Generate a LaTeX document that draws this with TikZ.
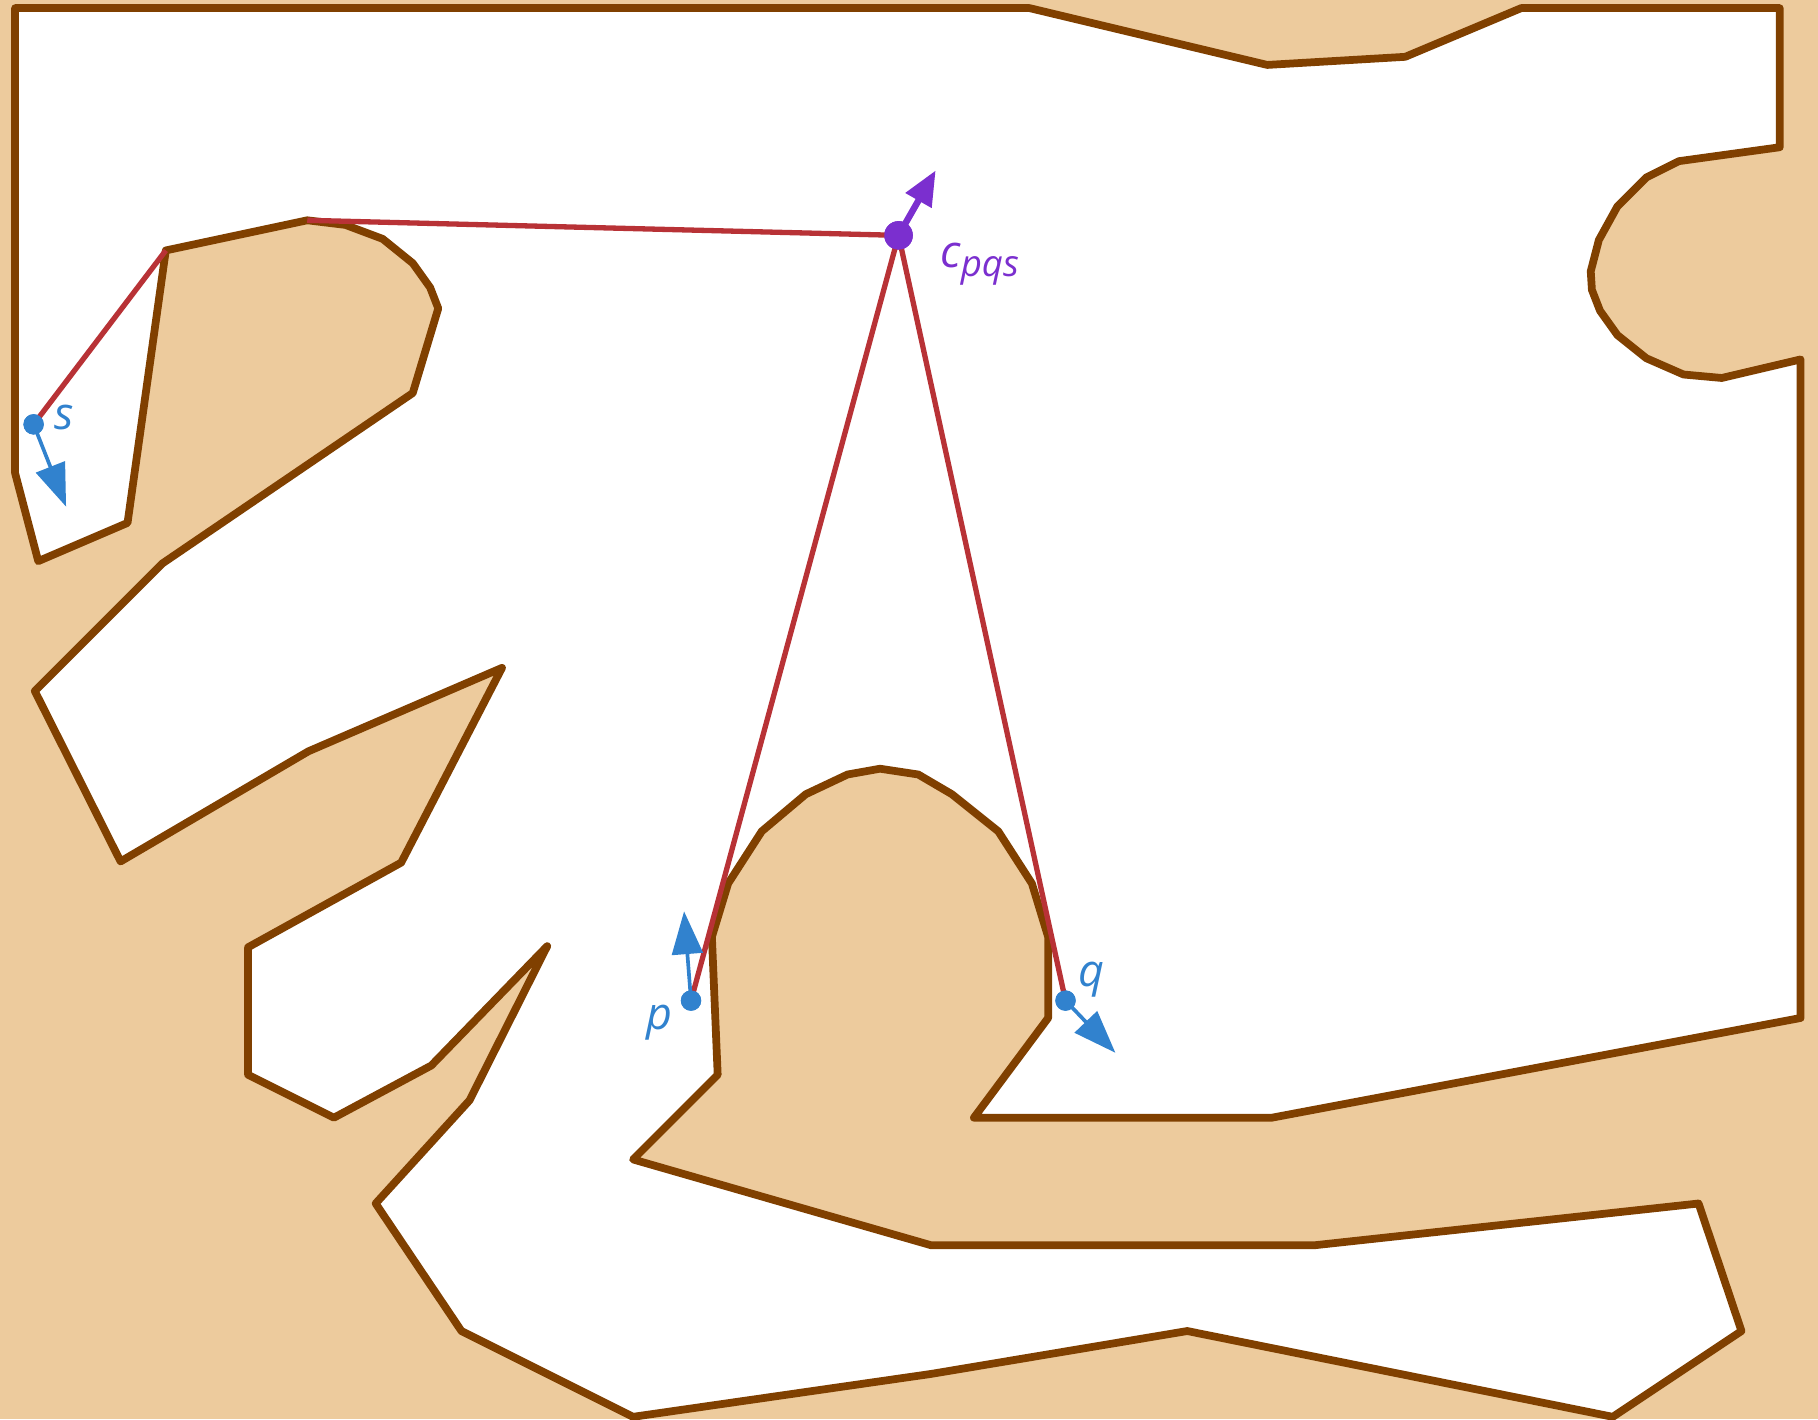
\documentclass[tikz,border=0pt]{standalone}
\usepackage{fontspec}
\newfontfamily\labelfont{Open Sans}
\usetikzlibrary{arrows.meta}
\definecolor{sand}{HTML}{EDCB9D}
\definecolor{wall}{HTML}{804000}
\definecolor{route}{HTML}{B83236}
\definecolor{ptblue}{HTML}{3182CE}
\definecolor{cpurple}{HTML}{7B2FCF}
\begin{document}
\begin{tikzpicture}[x=0.01cm,y=-0.01cm,
	freespace/.style={fill=white,draw=wall,line width=1.9pt,line join=round},
	routeline/.style={draw=route,line width=1.3pt},
	dot/.style={circle,fill=ptblue,inner sep=0pt,minimum size=5pt},
	bigdot/.style={circle,fill=cpurple,inner sep=0pt,minimum size=7pt},
	dirarrow/.style={draw=ptblue,line width=0.9pt,-{Triangle[length=10.5pt,width=7.5pt]}},
	lbl/.style={font=\labelfont\itshape\fontsize{11}{12}\selectfont}]
	% background
	\fill[sand] (0,0) rectangle (1568,1224);
	\useasboundingbox (0,0) rectangle (1568,1224);
	% free space
	\draw[freespace] (13,7) -- (888,7) -- (1093,56) -- (1212,49) -- (1312,7) -- (1535,7)
		-- (1535,127) -- (1448,139) -- (1420,153) -- (1395,178) -- (1379,207) -- (1372,234)
		-- (1373,250) -- (1380,268) -- (1395,289) -- (1420,309) -- (1452,323) -- (1485,326)
		-- (1553,310) -- (1553,878) -- (1097,964) -- (840,964) -- (904,878) -- (904,808)
		-- (890,762) -- (861,717) -- (821,685) -- (792,668) -- (759,663) -- (731,668)
		-- (695,685) -- (657,717) -- (628,762) -- (614,808) -- (619,927) -- (546,1000)
		-- (803,1074) -- (1134,1074) -- (1465,1038) -- (1502,1148) -- (1391,1222)
		-- (1024,1148) -- (803,1185) -- (546,1222) -- (398,1148) -- (324,1038) -- (405,949)
		-- (472,816) -- (372,919) -- (288,964) -- (214,927) -- (214,817) -- (346,744)
		-- (433,576) -- (266,648) -- (104,743) -- (30,596) -- (140,486) -- (356,339)
		-- (378,266) -- (371,248) -- (356,227) -- (330,206) -- (298,194) -- (265,190)
		-- (143,216) -- (110,451) -- (33,484) -- (13,408) -- cycle;
	% points
	\node[bigdot] (c) at (775,203) {};
	\node[dot] (s) at (29,366) {};
	\node[dot] (p) at (596,863) {};
	\node[dot] (q) at (919,863) {};
	\coordinate (b1) at (143,216);
	\coordinate (b2) at (265,190);
	% shortest paths
	\draw[routeline] (s.center) -- (b1);
	\draw[routeline] (b2) -- (c.center) -- (p.center);
	\draw[routeline] (c.center) -- (q.center);
	% directions
	\coordinate (cdir) at (807,147);
	\coordinate (sdir) at (57,437);
	\coordinate (pdir) at (590,786);
	\coordinate (qdir) at (962,908);
	\draw[draw=cpurple,line width=1.6pt,-{Triangle[length=8.5pt,width=7pt]}] (c.center) -- (cdir);
	\draw[dirarrow] (s.center) -- (sdir);
	\draw[dirarrow] (p.center) -- (pdir);
	\draw[dirarrow] (q.center) -- (qdir);
	\node[bigdot] at (c) {};
	\node[dot] at (s) {};
	\node[dot] at (p) {};
	\node[dot] at (q) {};
	% labels
	\node[lbl,text=cpurple] (clabel) at (845,228) {c\raisebox{-0.4ex}{\fontsize{9}{10}\selectfont pqs}};
	\node[lbl,text=ptblue] (slabel) at (55,360) {s};
	\node[lbl,text=ptblue] (plabel) at (569,882) {p};
	\node[lbl,text=ptblue] (qlabel) at (941,845) {q};
\end{tikzpicture}
\end{document}
